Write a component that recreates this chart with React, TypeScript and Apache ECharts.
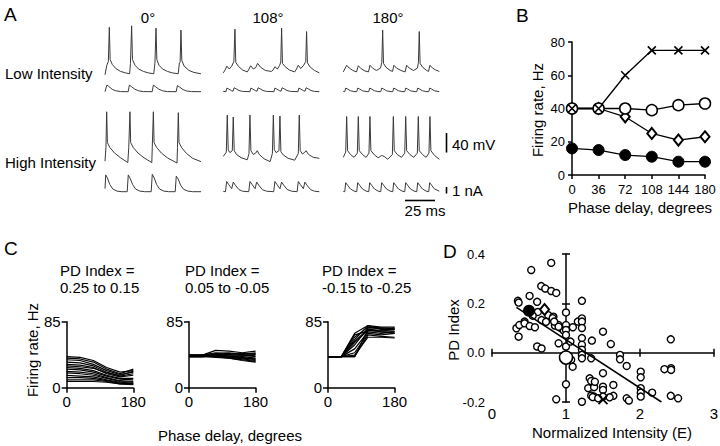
import React, { useEffect, useRef } from "react";
import * as echarts from "echarts";

const FONT = "'Liberation Sans', Arial, Helvetica, sans-serif";

// ---------------- Panel A: traces, [time (ms), value] ----------------
// voltage in mV, current in nA
const lowV0 = [[0,-70],[1.5,-50],[2.8,-42],[3.6,30],[4.3,-38],[6,-48],[9,-57],[13,-63],[17,-66],[20.5,-68],
  [21.2,-46],[22.2,33],[22.9,-38],[25,-50],[28,-58],[32,-63],[36,-66],[40.6,-68],
  [41.6,-46],[42.5,28],[43.2,-38],[45,-50],[48,-58],[52,-63],[56,-66],[61,-68],
  [62,-45],[62.6,-44],[63.3,24],[64,-40],[66,-52],[70,-61],[74,-65],[80,-68]];
const lowI0 = [[0,0],[1.5,1.1],[3,0.9],[6,0.4],[9,0.15],[13,0.02],[19.3,0],
  [20.3,1.1],[22,0.85],[25,0.4],[28,0.15],[32,0.02],[39.3,0],
  [40.3,1.1],[42,0.85],[45,0.4],[48,0.15],[52,0.02],[59.3,0],
  [60.3,1.0],[62,0.8],[65,0.35],[68,0.12],[72,0.02],[80,0]];
const highV0 = [[0,-74],[0.8,-45],[1.4,30],[2,-35],[4,-45],[8,-57],[13,-67],[19,-77],
  [19.8,-45],[20.8,30],[21.4,-35],[23.5,-45],[27.5,-57],[32.5,-67],[39,-77],
  [39.4,-45],[40.3,30],[40.9,-35],[43,-45],[47,-57],[52,-67],[60,-78],
  [60.4,-45],[61.1,28],[61.7,-35],[64,-46],[68,-58],[73,-68],[80,-75]];
const highI0 = [[0,0.5],[0.6,2.8],[2,2.3],[4,1.2],[6.5,0.45],[10,0.1],[14,0],[18.5,0],
  [19.4,2.8],[21,2.2],[23,1.2],[25.5,0.45],[29,0.1],[33,0],[38.5,0],
  [39.4,2.9],[41,2.3],[43,1.2],[45.5,0.45],[49,0.1],[53,0],[58.5,0],
  [59.4,2.6],[61,2.1],[63,1.1],[65.5,0.4],[69,0.1],[73,0],[80,0]];

const lowV108 = [[0,-66],[1.5,-60],[3,-52],[5,-58],[7,-52],[8.8,-42],[9.7,26],[10.4,-44],[12.5,-52],[16,-60],[20,-64],
  [21,-60],[22.8,-51],[25,-58],[27,-55],[28.6,-46],[31,-54],[35,-61],[40,-63],
  [41.5,-60],[43,-53],[45,-58],[47,-50],[47.9,-43],[48.6,28],[49.3,-46],[51.5,-53],[55,-60],[59.5,-64],
  [61,-58],[62.5,-50],[64.5,-57],[67,-50],[68.7,-42],[69.4,21],[70.1,-45],[72.5,-54],[76,-61],[80,-66]];
const lowI108 = [[0,0.05],[2.2,0],[3,0.6],[4.5,0.45],[7,0.15],[8.2,0.1],[9,0.65],[10.5,0.5],[13,0.2],[16,0.05],[22.2,0],
  [23,0.6],[24.5,0.45],[27,0.15],[28.2,0.1],[29,0.65],[30.5,0.5],[33,0.2],[36,0.05],[42.2,0],
  [43,0.6],[44.5,0.45],[47,0.15],[48.2,0.1],[49,0.65],[50.5,0.5],[53,0.2],[56,0.05],[62.2,0],
  [63,0.6],[64.5,0.45],[67,0.15],[68.2,0.1],[69,0.65],[70.5,0.5],[73,0.2],[76,0.05],[80,0]];
const highV108 = [[0,-64],[2.5,-55],[3.3,23],[4.1,-50],[5.5,-56],[7.5,-52],[8.3,19],[9.1,-52],[11,-60],[15,-67],[20,-71],
  [21.4,-58],[22.2,23],[23,-52],[25,-60],[27,-57],[28.3,-52],[30,-60],[34,-69],[39,-75],
  [40.9,-58],[41.7,23],[42.5,-50],[44,-56],[46.4,-52],[47.2,21],[48,-54],[50,-61],[54,-68],[59.5,-72],
  [62.5,-58],[63.3,23],[64.1,-52],[66,-59],[68,-55],[69,-52],[71,-60],[75,-66],[80,-68]];
const highI108 = [[0,0.05],[1.8,0],[2.8,1.7],[4.5,1.2],[7,0.5],[8.3,1.6],[10,1.1],[13,0.35],[16,0.08],[21.2,0],
  [22.2,1.7],[24,1.2],[26.5,0.5],[27.8,1.6],[29.5,1.1],[32.5,0.35],[36,0.08],[42,0],
  [43,1.7],[44.7,1.2],[47.2,0.5],[48.6,1.6],[50.3,1.1],[53.3,0.35],[57,0.08],[61.5,0],
  [62.5,1.7],[64.2,1.2],[66.7,0.5],[68,1.6],[69.7,1.1],[72.7,0.35],[76,0.08],[80,0]];

const lowV180 = [[0,-64],[2.8,-50],[5,-56],[8,-61],[11,-64],[12.5,-51],[14.7,-57],[18,-62],[21,-64],[22.2,-50],[24.4,-56],
  [27.5,-61],[31,-56],[32.1,-44],[32.8,24],[33.5,-46],[35.5,-54],[39,-61],[41,-63],[42.2,-50],[44.4,-56],[48,-61],
  [51.5,-64],[52.8,-50],[55,-56],[58.5,-61],[61.8,-56],[62.6,-44],[63.3,21],[64,-46],[66,-54],[69.5,-61],[71,-63],
  [72.2,-50],[74.4,-56],[77,-60],[80,-63]];
const lowI180 = [[0,0.05],[1.2,0],[2,0.6],[3.5,0.45],[6,0.15],[9,0.03],[11.2,0],[12,0.6],[13.5,0.45],[16,0.15],[19,0.03],
  [21.2,0],[22,0.6],[23.5,0.45],[26,0.15],[29,0.03],[31.2,0],[32,0.6],[33.5,0.45],[36,0.15],[39,0.03],[41.2,0],[42,0.6],
  [43.5,0.45],[46,0.15],[49,0.03],[51.2,0],[52,0.6],[53.5,0.45],[56,0.15],[59,0.03],[61.2,0],[62,0.6],[63.5,0.45],
  [66,0.15],[69,0.03],[71.2,0],[72,0.6],[73.5,0.45],[76,0.15],[80,0.02]];
const highV180 = [[0,-66],[2,-55],[2.8,20],[3.6,-52],[6,-60],[9,-66],[11.7,-57],[12.5,20],[13.3,-52],[16,-60],[19,-66],
  [21.4,-57],[22.2,20],[23,-52],[26,-61],[29,-67],[32,-62],[34,-64],[37,-70],[40.9,-60],[41.7,20],[42.5,-52],[45,-60],
  [48.5,-66],[51.2,-57],[52,20],[52.8,-52],[55.5,-60],[58.7,-66],[61.7,-57],[62.5,20],[63.3,-52],[66,-60],[69,-66],
  [71.4,-57],[72.2,20],[73,-52],[76,-62],[80,-70]];
const highI180 = [[0,0.05],[1.2,0],[2,1.5],[3.5,1.1],[6,0.45],[9,0.1],[11.2,0],[12,1.5],[13.5,1.1],[16,0.45],[19,0.1],
  [21.2,0],[22,1.5],[23.5,1.1],[26,0.45],[29,0.1],[31.2,0],[32,1.5],[33.5,1.1],[36,0.45],[39,0.1],[41.2,0],[42,1.5],
  [43.5,1.1],[46,0.45],[49,0.1],[51.2,0],[52,1.5],[53.5,1.1],[56,0.45],[59,0.1],[61.2,0],[62,1.5],[63.5,1.1],
  [66,0.45],[69,0.1],[71.2,0],[72,1.5],[73.5,1.1],[76,0.45],[80,0.1]];

const phaseHeadings = ["0°", "108°", "180°"];
const rowLabels = ["Low Intensity", "High Intensity"];

// ---------------- Panel B ----------------
const phaseDelays = [0, 36, 72, 108, 144, 180];
const bCross = [40, 40, 60, 75, 75, 75];
const bOpen = [40, 40, 40, 39, 42, 43];
const bDiamond = [40, 40, 35, 25, 21, 23];
const bFilled = [16, 15, 12, 11, 8, 8];

// ---------------- Panel C ----------------
const cTitles = [["PD Index =", "0.25 to 0.15"], ["PD Index =", "0.05 to -0.05"], ["PD Index =", "-0.15 to -0.25"]];
const cLinesHigh = [
  [40, 39, 35, 26, 20, 22], [38, 37, 33, 24, 18, 24], [36, 35, 30, 22, 17, 20], [33, 32, 28, 20, 15, 18],
  [30, 29, 26, 18, 14, 16], [28, 27, 25, 19, 16, 21], [26, 25, 22, 16, 12, 12], [24, 23, 20, 15, 11, 10],
  [21, 20, 18, 13, 9, 8], [19, 18, 16, 12, 8, 7], [16, 15, 14, 10, 7, 6], [13, 13, 12, 9, 6, 5],
  [10, 10, 10, 8, 5, 4], [8, 8, 8, 7, 5, 5]];
const cLinesMid = [
  [42, 42, 48, 47, 45, 47], [42, 42, 45, 44, 43, 44], [41, 41, 43, 42, 42, 40], [41, 41, 42, 41, 40, 38],
  [40, 40, 41, 40, 39, 36], [40, 40, 40, 39, 37, 35], [40, 40, 40, 38, 36, 34], [41, 41, 39, 38, 35, 33],
  [42, 42, 41, 40, 41, 42], [40, 40, 42, 43, 44, 43], [41, 41, 40, 39, 38, 37], [42, 42, 44, 45, 43, 45]];
const cLinesLow = [
  [40, 40, 70, 80, 75, 75], [40, 40, 65, 78, 77, 76], [40, 40, 60, 75, 74, 73], [40, 40, 55, 77, 76, 75],
  [40, 40, 50, 72, 70, 72], [40, 40, 45, 70, 68, 70], [40, 40, 40, 68, 66, 65], [40, 40, 40, 75, 72, 70],
  [40, 40, 68, 73, 74, 77], [40, 40, 62, 80, 78, 78], [40, 40, 42, 65, 65, 64], [40, 40, 58, 74, 72, 72]];

// ---------------- Panel D ----------------
const dPoints = [
  [0.80, 0.364], [0.53, 0.335], [0.665, 0.27], [0.72, 0.26], [0.80, 0.25], [0.868, 0.242], [0.508, 0.23],
  [0.35, 0.21], [0.36, 0.203], [0.61, 0.206], [1.215, 0.21], [0.62, 0.165], [0.76, 0.152], [0.83, 0.146],
  [0.67, 0.132], [0.44, 0.126], [0.33, 0.099], [0.37, 0.112], [0.44, 0.119], [0.51, 0.108], [0.58, 0.103],
  [0.36, 0.065], [0.82, 0.14], [0.85, 0.11], [0.93, 0.1], [0.97, 0.09], [0.73, 0.125], [0.55, 0.15],
  [1.0, 0.163], [1.0, 0.112], [1.0, 0.092], [1.0, 0.072], [1.0, 0.025], [0.9, 0.112], [0.84, 0.126],
  [0.9, 0.105], [1.093, 0.103], [1.16, 0.126], [1.215, 0.139], [1.215, 0.126], [1.215, 0.1], [1.215, 0.059],
  [1.215, 0.032], [1.215, 0.012], [1.215, -0.009], [1.215, -0.023], [1.07, -0.029], [1.09, -0.057],
  [1.35, 0.049], [1.34, -0.023], [1.06, 0.045], [0.9, 0.038], [0.61, 0.025], [0.67, 0.017], [1.0, -0.128],
  [0.868, -0.189], [1.215, -0.199], [1.32, -0.104], [1.34, -0.115], [1.3, -0.144], [1.38, -0.14],
  [1.34, -0.174], [1.38, -0.178], [1.36, -0.18],
  [1.50, 0.085], [1.606, 0.035], [2.416, 0.054], [1.73, -0.009], [1.73, -0.027], [1.82, -0.054], [1.50, -0.083],
  [2.01, -0.077], [2.01, -0.1], [2.33, -0.067], [2.42, -0.063], [2.42, -0.07], [1.64, -0.131], [1.5, -0.138],
  [1.5, -0.151], [1.39, -0.118], [2.01, -0.144], [2.01, -0.162], [2.01, -0.178], [2.164, -0.162],
  [2.416, -0.175], [2.515, -0.185], [1.82, -0.185], [1.85, -0.194], [1.64, -0.175], [1.59, -0.181],
  [1.5, -0.178], [1.435, -0.185]];
const dFilledBig = [[0.5, 0.17]];
const dDiamondBig = [[0.71, 0.175]];
const dOpenBig = [[1.0, -0.02]];
const dCrossBig = [[1.5, -0.19]];
const dFit = [[0.33, 0.184], [2.29, -0.2]];

const CROSS = "path://M0,0L10,10M10,0L0,10";

function buildOption() {
  const grid: any[] = [];
  const xAxis: any[] = [];
  const yAxis: any[] = [];
  const series: any[] = [];
  const axisLineStyle = { color: "#000", width: 1.5 };

  // Panel A
  const traces = [
    [lowV0, lowI0, highV0, highI0],
    [lowV108, lowI108, highV108, highI108],
    [lowV180, lowI180, highV180, highI180],
  ];
  const colLeft = [105, 223.3, 343.3];
  const rowTop = [22.5, 73.7, 107, 173.7];
  const rowH = [57, 19.2, 57, 19.2];
  traces.forEach((col, c) =>
    col.forEach((data, r) => {
      const gi = grid.length;
      grid.push({ left: colLeft[c], top: rowTop[r], width: 96, height: rowH[r], outerBoundsMode: "none" });
      xAxis.push({ gridIndex: gi, type: "value", min: 0, max: 80, show: false });
      yAxis.push({ gridIndex: gi, type: "value", min: r % 2 === 0 ? -80 : -0.2, max: r % 2 === 0 ? 40 : 3, show: false });
      series.push({
        type: "line", xAxisIndex: gi, yAxisIndex: gi, data, symbol: "none", silent: true,
        lineStyle: { color: "#3a3a3a", width: 1 },
      });
    })
  );

  // Panel B
  const bi = grid.length;
  grid.push({ left: 572, top: 42, width: 133, height: 133, outerBoundsMode: "none" });
  xAxis.push({
    gridIndex: bi, type: "value", min: 0, max: 180, interval: 36,
    axisLine: { show: true, onZero: false, lineStyle: axisLineStyle },
    axisTick: { show: true, length: 4, lineStyle: axisLineStyle },
    axisLabel: { color: "#000", fontSize: 13, fontFamily: FONT, margin: 8 },
    splitLine: { show: false },
  });
  yAxis.push({
    gridIndex: bi, type: "value", min: 0, max: 80, interval: 20,
    axisLine: { show: true, onZero: false, lineStyle: axisLineStyle },
    axisTick: { show: true, length: 4, lineStyle: axisLineStyle },
    axisLabel: { color: "#000", fontSize: 13, fontFamily: FONT, margin: 7 },
    splitLine: { show: false },
  });
  const bSeries = (vals: number[], symbol: string, size: any, item: any) => ({
    type: "line", xAxisIndex: bi, yAxisIndex: bi, silent: true,
    data: phaseDelays.map((p, i) => [p, vals[i]]),
    symbol, symbolSize: size, showSymbol: true,
    lineStyle: { color: "#000", width: 1.3 },
    itemStyle: { opacity: 1, ...item },
  });
  series.push(bSeries(bDiamond, "diamond", [9, 11], { color: "#fff", borderColor: "#000", borderWidth: 2 }));
  series.push(bSeries(bFilled, "circle", 11, { color: "#000", borderColor: "#000", borderWidth: 1 }));
  series.push(bSeries(bOpen, "circle", 11, { color: "#fff", borderColor: "#000", borderWidth: 1.5 }));
  series.push(bSeries(bCross, CROSS, 8, { color: "#000", borderColor: "#000", borderWidth: 1.6 }));

  // Panel C
  const cLeft = [66.7, 189, 328];
  [cLinesHigh, cLinesMid, cLinesLow].forEach((lines, k) => {
    const gi = grid.length;
    grid.push({ left: cLeft[k], top: 321.7, width: 66.6, height: 66, outerBoundsMode: "none" });
    xAxis.push({
      gridIndex: gi, type: "value", min: 0, max: 180, interval: 180,
      axisLine: { show: true, onZero: false, lineStyle: axisLineStyle },
      axisTick: { show: true, length: 5, lineStyle: axisLineStyle },
      axisLabel: { color: "#000", fontSize: 15, fontFamily: FONT, margin: 6 },
      splitLine: { show: false },
    });
    yAxis.push({
      gridIndex: gi, type: "value", min: 0, max: 85, interval: 85,
      axisLine: { show: true, onZero: false, lineStyle: axisLineStyle },
      axisTick: { show: true, length: 5, lineStyle: axisLineStyle },
      axisLabel: { color: "#000", fontSize: 15, fontFamily: FONT, margin: 6 },
      splitLine: { show: false },
    });
    lines.forEach((vals) =>
      series.push({
        type: "line", xAxisIndex: gi, yAxisIndex: gi, silent: true, symbol: "none",
        data: phaseDelays.map((p, i) => [p, vals[i]]),
        lineStyle: { color: "#000", width: 1.2 },
      })
    );
  });

  // Panel D
  const di = grid.length;
  grid.push({ left: 492, top: 254, width: 222, height: 148, outerBoundsMode: "none" });
  const dx0 = xAxis.length;
  xAxis.push({
    gridIndex: di, type: "value", min: 0, max: 3, interval: 1, position: "bottom",
    axisLine: { show: false, onZero: false }, axisTick: { show: false },
    axisLabel: { color: "#000", fontSize: 15, fontFamily: FONT, margin: 4 },
    splitLine: { show: false },
  });
  xAxis.push({
    gridIndex: di, type: "value", min: 0, max: 3, interval: 1, position: "bottom",
    axisLine: { show: true, onZero: true, lineStyle: axisLineStyle },
    axisTick: { show: true, length: 4, lineStyle: axisLineStyle },
    axisLabel: { show: false }, splitLine: { show: false },
  });
  xAxis.push({
    gridIndex: di, type: "value", min: 0, max: 3, interval: 1, position: "bottom",
    axisLine: { show: false, onZero: true },
    axisTick: { show: true, inside: true, length: 4, lineStyle: axisLineStyle },
    axisLabel: { show: false }, splitLine: { show: false },
  });
  const dy0 = yAxis.length;
  yAxis.push({
    gridIndex: di, type: "value", min: -0.2, max: 0.4, interval: 0.2, position: "left",
    axisLine: { show: false, onZero: false }, axisTick: { show: false },
    axisLabel: { color: "#000", fontSize: 13, fontFamily: FONT, margin: 7, formatter: (v: number) => v.toFixed(1) },
    splitLine: { show: false },
  });
  const xOneOffset = -222 / 3;
  yAxis.push({
    gridIndex: di, type: "value", min: -0.2, max: 0.4, interval: 0.2, position: "left", offset: xOneOffset,
    axisLine: { show: true, onZero: false, lineStyle: axisLineStyle },
    axisTick: { show: true, length: 4, lineStyle: axisLineStyle },
    axisLabel: { show: false }, splitLine: { show: false },
  });
  yAxis.push({
    gridIndex: di, type: "value", min: -0.2, max: 0.4, interval: 0.2, position: "left", offset: xOneOffset,
    axisLine: { show: false, onZero: false },
    axisTick: { show: true, inside: true, length: 4, lineStyle: axisLineStyle },
    axisLabel: { show: false }, splitLine: { show: false },
  });
  const dScatter = (data: number[][], symbol: string, size: any, item: any) => ({
    type: "scatter", xAxisIndex: dx0, yAxisIndex: dy0, silent: true, data, symbol, symbolSize: size,
    itemStyle: { opacity: 1, ...item },
  });
  series.push(dScatter(dPoints, "circle", 7, { color: "#fff", borderColor: "#000", borderWidth: 1.4 }));
  series.push({
    type: "line", xAxisIndex: dx0, yAxisIndex: dy0, silent: true, symbol: "none", data: dFit,
    lineStyle: { color: "#000", width: 1.5 },
  });
  series.push(dScatter(dFilledBig, "circle", 12, { color: "#000" }));
  series.push(dScatter(dDiamondBig, "diamond", [9, 11], { color: "#fff", borderColor: "#000", borderWidth: 2 }));
  series.push(dScatter(dOpenBig, "circle", 13, { color: "#fff", borderColor: "#000", borderWidth: 1.5 }));
  series.push(dScatter(dCrossBig, CROSS, 9, { color: "#000", borderColor: "#000", borderWidth: 1.8 }));

  // Texts and scale bars
  const txt = (text: string, x: number, y: number, size = 15, align = "left", rot = 0) => ({
    type: "text", x, y, rotation: rot, silent: true,
    style: {
      text, fill: "#000", font: `${size}px ${FONT}`,
      align, textAlign: align, verticalAlign: "middle", textVerticalAlign: "middle",
    },
  });
  const bar = (x1: number, y1: number, x2: number, y2: number) => ({
    type: "line", silent: true, shape: { x1, y1, x2, y2 }, style: { stroke: "#000", lineWidth: 1.6 },
  });
  const graphic: any[] = [
    txt("A", 4, 14, 19),
    txt(phaseHeadings[0], 148, 17, 15, "center"),
    txt(phaseHeadings[1], 268, 17, 15, "center"),
    txt(phaseHeadings[2], 388, 17, 15, "center"),
    txt(rowLabels[0], 5, 73, 15),
    txt(rowLabels[1], 5, 162.5, 15),
    bar(446.5, 133, 446.5, 152.5),
    txt("40 mV", 452, 144, 15),
    bar(446.5, 187, 446.5, 193.5),
    txt("1 nA", 452, 190, 15),
    bar(405, 200.5, 435, 200.5),
    txt("25 ms", 425, 210, 15, "center"),
    txt("B", 516, 15, 19),
    txt("Firing rate, Hz", 537, 110, 15, "center", Math.PI / 2),
    txt("Phase delay, degrees", 640, 207, 15, "center"),
    txt("C", 4, 248, 19),
    txt("Firing rate, Hz", 32, 350, 15, "center", Math.PI / 2),
    txt("Phase delay, degrees", 230, 435, 15, "center"),
    txt("D", 443, 251, 19),
    txt("PD Index", 453, 330, 15, "center", Math.PI / 2),
    txt("Normalized Intensity (E)", 612, 432, 15, "center"),
  ];
  const cTitleLeft = [60, 185, 322];
  cTitles.forEach((t, k) => {
    graphic.push(txt(t[0], cTitleLeft[k], 270, 15));
    graphic.push(txt(t[1], cTitleLeft[k], 287.5, 15));
  });

  return {
    animation: false,
    backgroundColor: "#fff",
    textStyle: { fontFamily: FONT },
    grid, xAxis, yAxis, series, graphic,
  };
}

export default function App() {
  const ref = useRef<HTMLDivElement>(null);
  useEffect(() => {
    if (!ref.current) return;
    const chart = echarts.init(ref.current, undefined, { renderer: "svg" });
    chart.setOption(buildOption() as any);
    return () => chart.dispose();
  }, []);
  return (
    <div
      ref={ref}
      style={{ position: "absolute", left: 0, top: 0, width: 720, height: 446, background: "#fff" }}
    />
  );
}
